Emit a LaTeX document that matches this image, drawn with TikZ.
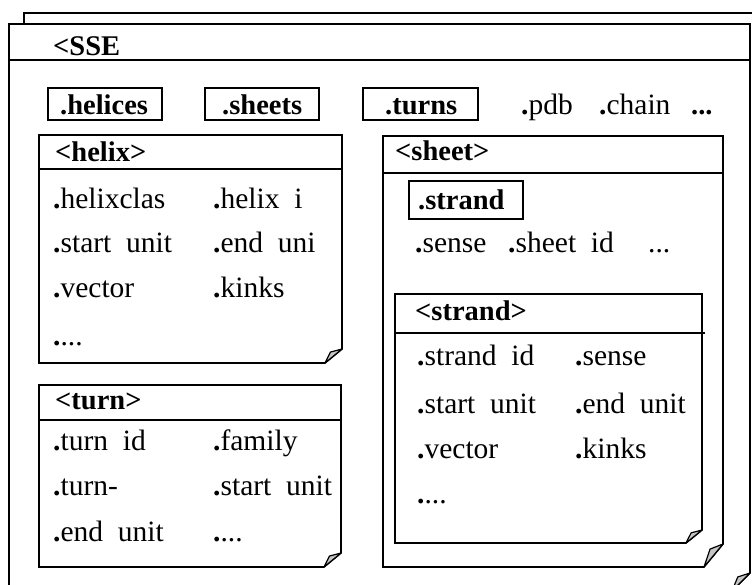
\documentclass[tikz,border=0pt]{standalone}
\usepackage{fontspec}
\setmainfont{Liberation Serif}
\tikzset{
  box/.style={draw=black, line width=1.6pt, line join=miter},
  flap/.style={draw=black, line width=1.2pt, fill=gray!45, line join=round},
  txt/.style={anchor=base west, inner sep=0pt, font=\fontsize{29.5}{31}\selectfont},
  btxt/.style={anchor=base west, inner sep=0pt, font=\fontsize{28.5}{30}\selectfont\bfseries},
  button/.style={box, line width=1.5pt},
}
% a box whose lower right corner is turned up as a small flap
\newcommand\foldbox[6]{%
  \draw[box] (#1,#2) -- (#3,#2) -- ({#3},{#4-#6}) -- ({#3-#5},{#4}) -- (#1,#4) -- cycle;
  \filldraw[flap] ({#3},{#4-#6}) -- ({#3-#5},{#4}) -- ({#3-0.68*#5},{#4-0.78*#6}) -- cycle;
}
\newcommand\dt{\textbf{.}}
\newcommand\gap{\ \ }
\begin{document}
\begin{tikzpicture}[x=1pt,y=-1pt]
\clip (0,0) rectangle (752,585);
\fill[white] (0,0) rectangle (752,585);

% frame lying behind the SSE frame
\draw[box] (24,24) -- (24,13) -- (770,13);

% SSE frame
\foldbox{9}{24}{750}{591}{18}{18}
\draw[box] (9,60) -- (750,60);
\node[btxt] (sse) at (53,56) {<SSE};

% member buttons
\draw[button] (48,88) rectangle (162,120);
\draw[button] (205,88) rectangle (319,120);
\draw[button] (363,88) rectangle (478,120);
\node[btxt] (helices) at (60,115) {.helices};
\node[btxt] (sheets) at (222,115) {.sheets};
\node[btxt] (turns) at (385,115) {.turns};
\node[txt] (pdb) at (521,115) {\dt pdb};
\node[txt] (chain) at (599,115) {\dt chain};
\node[btxt] (more) at (691,115) {...};

% helix class
\foldbox{39}{135}{342}{363}{17}{14}
\draw[box] (39,169) -- (342,169);
\node[btxt] (helix) at (55,162) {<helix>};
\node[txt] (h1) at (53,209) {\dt helixclas};
\node[txt] (h2) at (213,209) {\dt helix\gap i};
\node[txt] (h3) at (53,253) {\dt start\gap unit};
\node[txt] (h4) at (213,253) {\dt end\gap uni};
\node[txt] (h5) at (53,298) {\dt vector};
\node[txt] (h6) at (213,298) {\dt kinks};
\node[txt] (h7) at (53,345) {\dt...};

% turn class
\foldbox{39}{385}{341}{567}{17}{14}
\draw[box] (39,420) -- (341,420);
\node[btxt] (turn) at (55,409) {<turn>};
\node[txt] (t1) at (53,450) {\dt turn\gap id};
\node[txt] (t2) at (213,450) {\dt family};
\node[txt] (t3) at (53,495) {\dt turn-};
\node[txt] (t4) at (213,495) {\dt start\gap unit};
\node[txt] (t5) at (53,541) {\dt end\gap unit};
\node[txt] (t6) at (213,541) {\dt...};

% sheet class
\foldbox{383}{136}{723}{567}{19}{23}
\draw[box] (383,173) -- (724,173);
\node[btxt] (sheet) at (395,161) {<sheet>};
\draw[button] (409,181) rectangle (523,219);
\node[btxt] (strandbtn) at (418,210) {.strand};
\node[txt] (s1) at (415,253) {\dt sense};
\node[txt] (s2) at (508,253) {\dt sheet\gap id};
\node[txt] (s3) at (648,253) {...};

% strand class
\foldbox{395}{294}{702}{543}{16}{13}
\draw[box] (395,333) -- (705,333);
\node[btxt] (strand) at (415,320) {<strand>};
\node[txt] (r1) at (417,365) {\dt strand\gap id};
\node[txt] (r2) at (575,365) {\dt sense};
\node[txt] (r3) at (417,413) {\dt start\gap unit};
\node[txt] (r4) at (575,413) {\dt end\gap unit};
\node[txt] (r5) at (417,458) {\dt vector};
\node[txt] (r6) at (575,458) {\dt kinks};
\node[txt] (r7) at (417,503) {\dt...};
\end{tikzpicture}
\end{document}
